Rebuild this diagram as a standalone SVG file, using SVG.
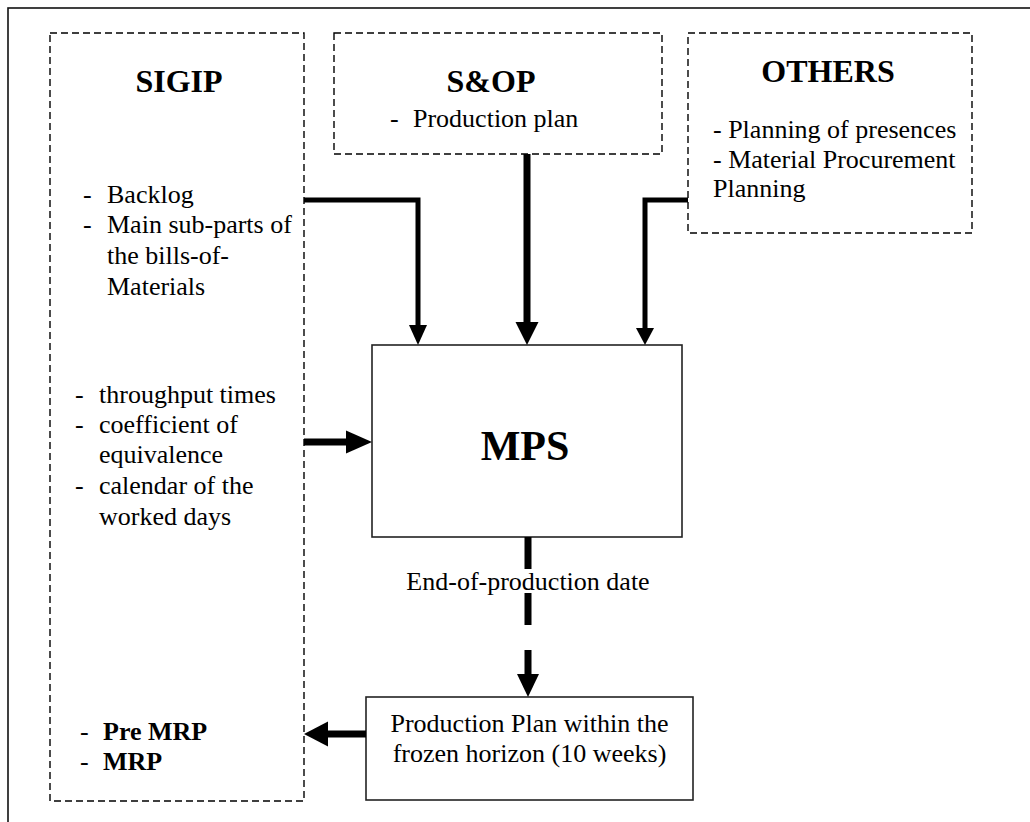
<svg xmlns="http://www.w3.org/2000/svg" width="1030" height="822" viewBox="0 0 1030 822" font-family="'Liberation Serif', 'DejaVu Serif', serif">
  <style>
    text { font-family: "Liberation Serif", "DejaVu Serif", serif; fill: #000; }
    .t { font-size: 26px; }
    .b { font-weight: bold; }
    .title { font-size: 32px; font-weight: bold; text-anchor: middle; }
    .mid { text-anchor: middle; }
    .dash { fill: none; stroke: #000; stroke-width: 1.4; stroke-dasharray: 7 4; }
    .solid { fill: #fff; stroke: #222; stroke-width: 1.6; }
    .wire { fill: none; stroke: #000; stroke-linejoin: miter; stroke-linecap: butt; }
    .head { fill: #000; stroke: none; }
  </style>

  <rect x="0" y="0" width="1030" height="822" fill="#fff"/>
  <!-- page frame -->
  <rect x="8" y="8" width="1040" height="840" fill="none" stroke="#111" stroke-width="1.6"/>

  <g id="sigip">
    <rect class="dash" x="50" y="33" width="254" height="768"/>
    <text class="title" x="179" y="92">SIGIP</text>
    <text class="t"><tspan x="83" y="203">-</tspan><tspan x="107" y="203">Backlog</tspan></text>
    <text class="t"><tspan x="83" y="233">-</tspan><tspan x="107" y="233">Main sub-parts of</tspan></text>
    <text class="t" x="107" y="264">the bills-of-</text>
    <text class="t" x="107" y="295">Materials</text>
    <text class="t"><tspan x="75" y="403">-</tspan><tspan x="99" y="403">throughput times</tspan></text>
    <text class="t"><tspan x="75" y="433">-</tspan><tspan x="99" y="433">coefficient of</tspan></text>
    <text class="t" x="99" y="463">equivalence</text>
    <text class="t"><tspan x="75" y="494">-</tspan><tspan x="99" y="494">calendar of the</tspan></text>
    <text class="t" x="99" y="525">worked days</text>
    <text class="t"><tspan x="80" y="740">-</tspan><tspan class="b" x="103" y="740">Pre MRP</tspan></text>
    <text class="t"><tspan x="80" y="770">-</tspan><tspan class="b" x="103" y="770">MRP</tspan></text>
  </g>

  <g id="sop">
    <rect class="dash" x="334" y="33" width="328" height="121"/>
    <text class="title" x="491" y="92">S&amp;OP</text>
    <text class="t"><tspan x="390" y="127">-</tspan><tspan x="413" y="127">Production plan</tspan></text>
  </g>

  <g id="others">
    <rect class="dash" x="688" y="33" width="284" height="200"/>
    <text class="title" x="828" y="82">OTHERS</text>
    <text class="t" x="713" y="138">- Planning of presences</text>
    <text class="t" x="713" y="168">- Material Procurement</text>
    <text class="t" x="713" y="197">Planning</text>
  </g>

  <g id="mps">
    <rect class="solid" x="372" y="345" width="310" height="192"/>
    <text class="mid b" x="525" y="460" font-size="42">MPS</text>
  </g>

  <g id="frozen-plan">
    <rect class="solid" x="366" y="697" width="327" height="103"/>
    <text class="t mid" x="529.5" y="732">Production Plan within the</text>
    <text class="t mid" x="529.5" y="762">frozen horizon (10 weeks)</text>
  </g>

  <g id="connectors">
    <!-- SIGIP (backlog, bills of materials) to MPS -->
    <path class="wire" stroke-width="5" d="M304,200 H418 V326"/>
    <path class="head" d="M409,325 H427 L418,345 Z"/>
    <!-- S&OP to MPS -->
    <path class="wire" stroke-width="7" d="M527,154 V323"/>
    <path class="head" d="M515.5,322 H538.5 L527,345 Z"/>
    <!-- OTHERS to MPS -->
    <path class="wire" stroke-width="5" d="M688,200 H645 V329"/>
    <path class="head" d="M636,328 H654 L645,345 Z"/>
    <!-- SIGIP (times, calendar) to MPS -->
    <path class="wire" stroke-width="7" d="M304,442 H347"/>
    <path class="head" d="M346,430.5 V453.5 L372,442 Z"/>
    <!-- MPS to frozen plan, dashed -->
    <path class="wire" stroke-width="7" d="M528,537 V569 M528,593 V625 M528,650 V675"/>
    <path class="head" d="M517,674 H539 L528,697 Z"/>
    <text class="t mid" x="528" y="590">End-of-production date</text>
    <!-- frozen plan back to SIGIP -->
    <path class="wire" stroke-width="7" d="M366,734 H327"/>
    <path class="head" d="M328,721.5 V746.5 L304,734 Z"/>
  </g>
</svg>
